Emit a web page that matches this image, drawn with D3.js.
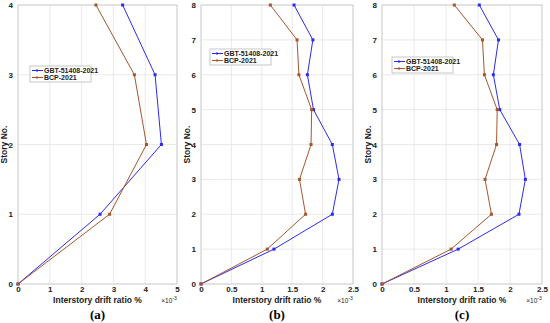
<!DOCTYPE html>
<html>
<head>
<meta charset="utf-8">
<script src="https://cdn.jsdelivr.net/npm/d3@7"></script>
<style>
  body { margin: 0; background: #fff; }
  svg text { font-family: Arial, "Liberation Sans", sans-serif; }
</style>
</head>
<body>
<div id="chart"></div>
<script>
var stories4 = [0, 1, 2, 3, 4];
var stories8 = [0, 1, 2, 3, 4, 5, 6, 7, 8];

// values in units of 1e-3
var gbtA = [0, 2.58, 4.51, 4.31, 3.29];
var bcpA = [0, 2.88, 4.04, 3.66, 2.45];
var gbtB = [0, 1.20, 2.16, 2.27, 2.16, 1.85, 1.75, 1.84, 1.53];
var bcpB = [0, 1.09, 1.72, 1.62, 1.81, 1.82, 1.61, 1.58, 1.14];
var gbtC = [0, 1.19, 2.14, 2.24, 2.15, 1.84, 1.74, 1.82, 1.52];
var bcpC = [0, 1.08, 1.71, 1.61, 1.79, 1.80, 1.60, 1.57, 1.13];

var xTicksA = [0, 1, 2, 3, 4, 5];
var xTicksB = [0, 0.5, 1, 1.5, 2, 2.5];
var seriesNames = ["GBT-51408-2021", "BCP-2021"];
var panelLabels = ["(a)", "(b)", "(c)"];

var colors = ["#2b2bf0", "#a5562f"];

var svg = d3.select("#chart").append("svg")
    .attr("width", 550).attr("height", 323);

var panels = [
    { left: 18, right: 177, xmax: 5, xticks: xTicksA, stories: stories4, gbt: gbtA, bcp: bcpA, leg: [30, 66] },
    { left: 201, right: 353, xmax: 2.5, xticks: xTicksB, stories: stories8, gbt: gbtB, bcp: bcpB, leg: [210, 49] },
    { left: 382, right: 542, xmax: 2.5, xticks: xTicksB, stories: stories8, gbt: gbtC, bcp: bcpC, leg: [392, 57] }
];
var plotTop = 5, plotBottom = 284;

panels.forEach(function (p, i) {
    var x = d3.scaleLinear().domain([0, p.xmax]).range([p.left, p.right]);
    var ymax = p.stories.length - 1;
    var y = d3.scaleLinear().domain([0, ymax]).range([plotBottom, plotTop]);
    var g = svg.append("g");

    // grid
    g.selectAll(".gx").data(p.xticks).enter().append("line")
        .attr("x1", d => x(d)).attr("x2", d => x(d))
        .attr("y1", plotTop).attr("y2", plotBottom)
        .attr("stroke", "#e4e4e4").attr("stroke-width", 0.8);
    g.selectAll(".gy").data(p.stories).enter().append("line")
        .attr("y1", d => y(d)).attr("y2", d => y(d))
        .attr("x1", p.left).attr("x2", p.right)
        .attr("stroke", "#e4e4e4").attr("stroke-width", 0.8);

    g.append("rect")
        .attr("x", p.left).attr("y", plotTop)
        .attr("width", p.right - p.left).attr("height", plotBottom - plotTop)
        .attr("fill", "none").attr("stroke", "#c8c8c8").attr("stroke-width", 0.8);

    // axes
    var xAxis = g.append("g")
        .attr("transform", "translate(0," + plotBottom + ")")
        .call(d3.axisBottom(x).tickValues(p.xticks).tickSize(0).tickPadding(2).tickFormat(d3.format("~g")));
    var yAxis = g.append("g")
        .attr("transform", "translate(" + p.left + ",0)")
        .call(d3.axisLeft(y).tickValues(p.stories).tickSize(0).tickPadding(5).tickFormat(d3.format("d")));
    [xAxis, yAxis].forEach(function (a) {
        a.select(".domain").remove();
        a.selectAll("text").attr("font-size", 8).attr("font-weight", "bold")
            .attr("fill", "#222").style("font-family", "Arial, 'Liberation Sans', sans-serif");
    });

    // lines
    var series = [p.gbt, p.bcp];
    series.forEach(function (vals, k) {
        var pts = vals.map((v, j) => [v, p.stories[j]]);
        g.append("path").datum(pts)
            .attr("fill", "none").attr("stroke", colors[k]).attr("stroke-width", 1)
            .attr("d", d3.line().x(d => x(d[0])).y(d => y(d[1])));
        g.selectAll(".m" + k).data(pts).enter().append("rect")
            .attr("x", d => x(d[0]) - 1.5).attr("y", d => y(d[1]) - 1.5)
            .attr("width", 3).attr("height", 3)
            .attr("fill", colors[k]);
    });

    // labels
    var cx = (p.left + p.right) / 2;
    g.append("text").attr("x", cx).attr("y", 303)
        .attr("text-anchor", "middle").attr("font-size", 8.5).attr("font-weight", "bold")
        .attr("fill", "#222").text("Interstory drift ratio %");
    var ex = g.append("text").attr("x", p.right - 8).attr("y", 303)
        .attr("text-anchor", "middle").attr("font-size", 6.5).attr("fill", "#222");
    ex.append("tspan").text("×10");
    ex.append("tspan").attr("dy", -3).attr("font-size", 5).text("-3");
    g.append("text")
        .attr("transform", "translate(" + (p.left - 11) + "," + ((plotTop + plotBottom) / 2) + ") rotate(-90)")
        .attr("text-anchor", "middle").attr("font-size", 8.5).attr("font-weight", "bold")
        .attr("fill", "#222").text("Story No.");
    g.append("text").attr("x", cx).attr("y", 319)
        .attr("text-anchor", "middle").attr("font-size", 13).attr("font-weight", "bold")
        .style("font-family", "'Liberation Serif', 'DejaVu Serif', serif")
        .text(panelLabels[i]);

    // legend
    var lg = g.append("g").attr("transform", "translate(" + p.leg[0] + "," + p.leg[1] + ")");
    lg.append("rect").attr("width", 61).attr("height", 16)
        .attr("fill", "#fff").attr("stroke", "#b0b0b0").attr("stroke-width", 0.7);
    seriesNames.forEach(function (name, k) {
        var yy = 4.5 + k * 7;
        lg.append("line").attr("x1", 2).attr("x2", 13).attr("y1", yy).attr("y2", yy)
            .attr("stroke", colors[k]).attr("stroke-width", 1);
        lg.append("rect").attr("x", 6).attr("y", yy - 1).attr("width", 2).attr("height", 2)
            .attr("fill", colors[k]);
        lg.append("text").attr("x", 14).attr("y", yy + 2.5)
            .attr("font-size", 7).attr("font-weight", "bold").attr("fill", "#222")
            .text(name);
    });
});
</script>
</body>
</html>
